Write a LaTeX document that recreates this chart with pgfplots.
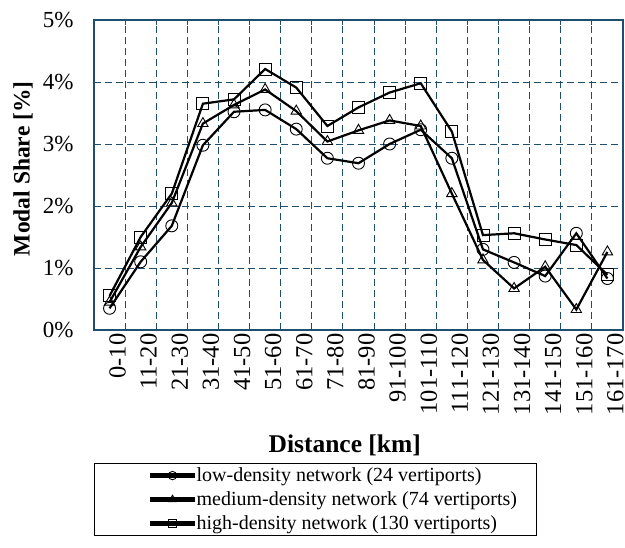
\documentclass[border=0pt]{standalone}
\usepackage{pgfplots}
\pgfplotsset{compat=1.18}
\usepackage{fontspec}
\setmainfont{Liberation Serif}
\definecolor{gridblue}{RGB}{31,78,110}
\begin{document}
\begin{tikzpicture}[x=1pt,y=1pt]
\path[use as bounding box] (-94pt,-218pt) rectangle (531pt,330pt);
\begin{axis}[
  at={(0pt,0pt)}, anchor=south west,
  scale only axis, width=529pt, height=310pt,
  xmin=-0.5, xmax=16.5, ymin=0, ymax=5,
  xtick={0,...,16},
  xticklabels={0-10,11-20,21-30,31-40,41-50,51-60,61-70,71-80,81-90,91-100,101-110,111-120,121-130,131-140,141-150,151-160,161-170},
  x tick label style={rotate=90, anchor=east, font=\fontsize{24.5}{26}\selectfont},
  xtick style={draw=none},
  minor xtick={-0.5,0.5,...,16.5},
  xminorgrids=true,
  minor x tick style={draw=gridblue, line width=0.9pt},
  minor tick length=5pt,
  ytick={0,1,2,3,4,5},
  yticklabels={0\%,1\%,2\%,3\%,4\%,5\%},
  y tick label style={font=\fontsize{23}{25}\selectfont},
  ytick style={draw=none},
  ymajorgrids=true,
  grid style={gridblue, line width=0.9pt, dash pattern=on 7pt off 4pt},
  minor grid style={gridblue, line width=0.9pt, dash pattern=on 7pt off 4pt},
  axis line style={gridblue, line width=1.2pt},
  yticklabel style={xshift=-17pt},
  xticklabel style={yshift=-8pt},
  xlabel={\textbf{Distance [km]}},
  ylabel={\textbf{Modal Share [\%]}},
  xlabel style={font=\fontsize{25.5}{27}\selectfont, at={(axis description cs:0.474,-0.371)}, anchor=center},
  ylabel style={font=\fontsize{23.5}{26}\selectfont, at={(axis description cs:-0.1342,0.52)}, anchor=center, rotate=0},
  legend style={at={(axis description cs:0,-0.429)}, anchor=north west, draw=black, line width=0.8pt,
    font=\fontsize{20}{24}\selectfont, inner xsep=0pt, inner ysep=2.5pt, row sep=4.5pt,
    cells={anchor=west}, /tikz/every even column/.append style={column sep=0pt}},
  legend cell align=left,
  legend image code/.code={
    \path (-56pt,0pt);
    \fill[black] (0pt,-1.2pt) rectangle (42pt,1.2pt);
    \draw[#1, line width=0.9pt, mark size=4.2pt] plot coordinates {(21pt,0pt)};
  },
  every axis plot/.append style={black, line width=2.2pt, mark size=6pt, mark options={solid, line width=0.9pt, fill=none}},
  clip=false,
]
\addplot[mark=o] coordinates {
(0,0.35) (1,1.10) (2,1.68) (3,2.98) (4,3.52) (5,3.55) (6,3.24) (7,2.77) (8,2.69)
(9,3.00) (10,3.23) (11,2.77) (12,1.30) (13,1.09) (14,0.87) (15,1.56) (16,0.83)};
\addlegendentry{\makebox[338pt][l]{low-density network (24 vertiports)}}
\addplot[mark=triangle] coordinates {
(0,0.45) (1,1.34) (2,2.05) (3,3.33) (4,3.63) (5,3.88) (6,3.53) (7,3.04) (8,3.22)
(9,3.38) (10,3.29) (11,2.20) (12,1.13) (13,0.67) (14,1.02) (15,0.33) (16,1.26)};
\addlegendentry{\makebox[338pt][l]{medium-density network (74 vertiports)}}
\addplot[mark=square] coordinates {
(0,0.55) (1,1.50) (2,2.20) (3,3.65) (4,3.72) (5,4.21) (6,3.91) (7,3.29) (8,3.59)
(9,3.83) (10,3.98) (11,3.20) (12,1.53) (13,1.56) (14,1.46) (15,1.37) (16,0.89)};
\addlegendentry{\makebox[338pt][l]{high-density network (130 vertiports)\rule[-12pt]{0pt}{12pt}}}
\end{axis}
\end{tikzpicture}
\end{document}
